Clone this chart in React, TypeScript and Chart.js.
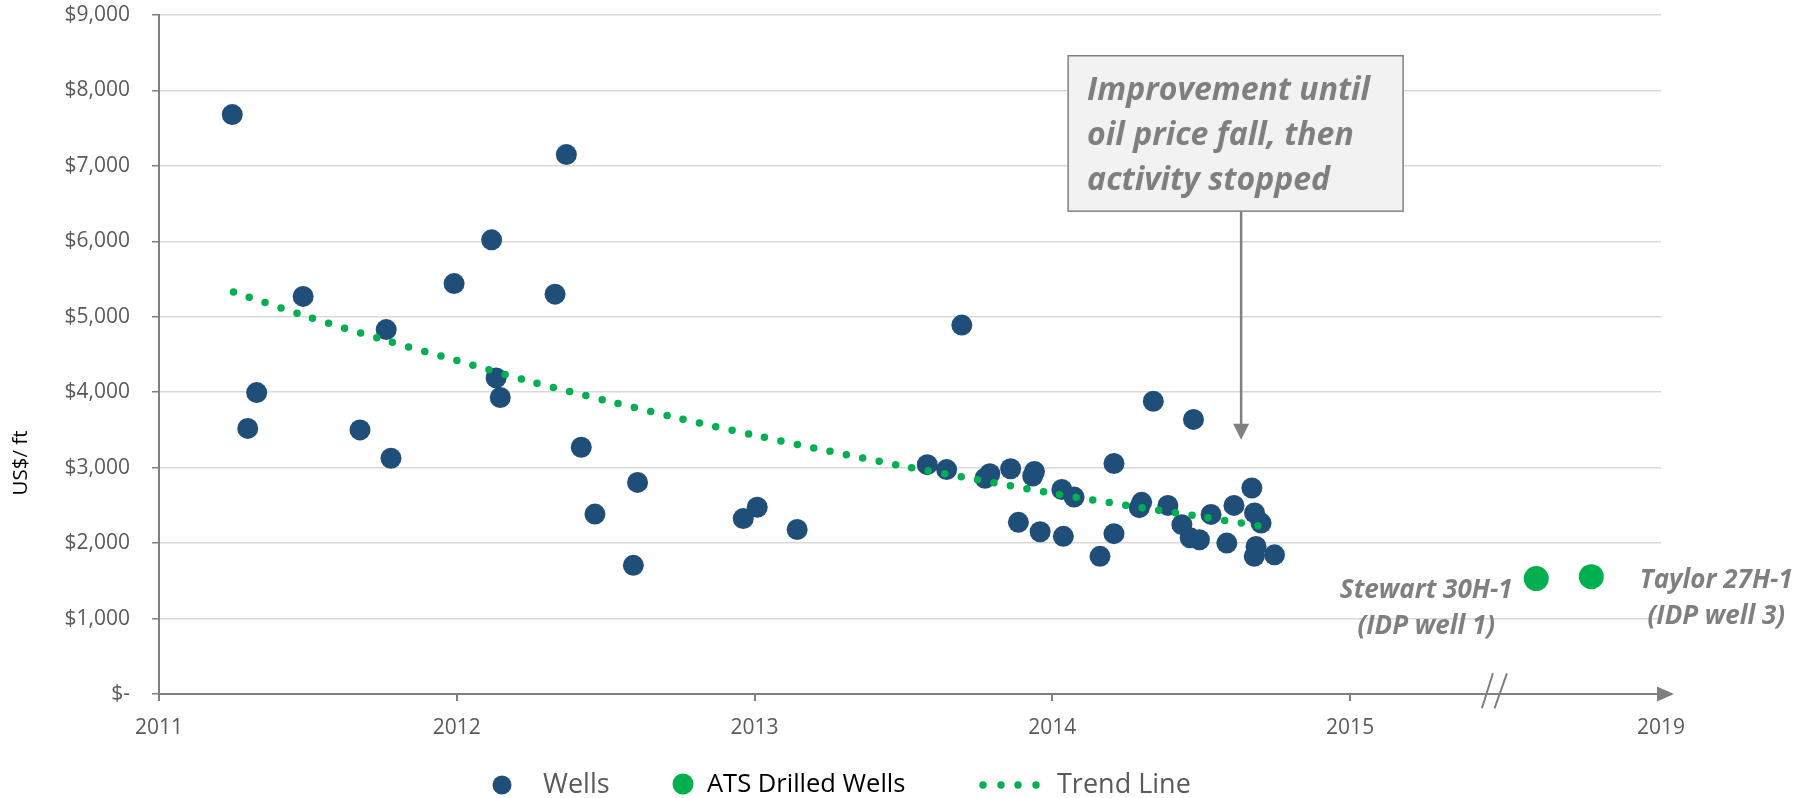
import React, { useEffect, useRef } from "react";
import { Chart, registerables } from "chart.js";

Chart.register(...registerables);

const FONT = "'Open Sans', 'Noto Sans', sans-serif";
const BLUE = "#1f4e79";
const GREEN = "#00b050";
const GRAY = "#7f7f7f";

// Wells: year (decimal) and cost US$/ft
const wellYears = [
  2011.246, 2011.298, 2011.328, 2011.484, 2011.675, 2011.763, 2011.779, 2011.991,
  2012.117, 2012.132, 2012.146, 2012.33, 2012.368, 2012.418, 2012.464, 2012.593,
  2012.607, 2012.962, 2013.009, 2013.143, 2013.58, 2013.645, 2013.696, 2013.774,
  2013.79, 2013.86, 2013.886, 2013.934, 2013.94, 2013.959, 2014.032, 2014.037,
  2014.073, 2014.16, 2014.207, 2014.207, 2014.292, 2014.3, 2014.339, 2014.388,
  2014.435, 2014.463, 2014.474, 2014.494, 2014.533, 2014.586, 2014.61, 2014.67,
  2014.679, 2014.684, 2014.678, 2014.701, 2014.746,
];
const wellCosts = [
  7680, 3520, 3995, 5270, 3500, 4830, 3125, 5440,
  6020, 4190, 3930, 5300, 7150, 3270, 2385, 1705,
  2805, 2325, 2475, 2180, 3040, 2975, 4890, 2860,
  2920, 2985, 2275, 2890, 2950, 2150, 2710, 2090,
  2610, 1825, 3055, 2125, 2470, 2540, 3880, 2500,
  2245, 2070, 3640, 2045, 2380, 2000, 2500, 2730,
  2400, 1955, 1825, 2265, 1845,
];

// ATS drilled wells, placed on the compressed 2015-2019 segment of the axis
const atsPositions = [2015.625, 2015.81];
const atsCosts = [1530, 1555];
const atsNames = ["Stewart 30H-1", "Taylor 27H-1"];
const atsNotes = ["(IDP well 1)", "(IDP well 3)"];

// Trend line
const trendYears = [
  2011.25, 2011.5, 2011.75, 2012, 2012.25, 2012.5, 2012.75, 2013,
  2013.25, 2013.5, 2013.75, 2014, 2014.25, 2014.5, 2014.74,
];
const trendCosts = [
  5330, 5000, 4700, 4420, 4140, 3890, 3650, 3430,
  3220, 3020, 2840, 2660, 2500, 2350, 2200,
];

const xTickValues = [2011, 2012, 2013, 2014, 2015, 2016.044];
const xTickLabels = ["2011", "2012", "2013", "2014", "2015", "2019"];
const axisBreakAt = 2015.484;
const yMax = 9000;
const yStep = 1000;

const annotationLines = ["Improvement until", "oil price fall, then", "activity stopped"];
const annotationBox = { x1: 2014.053, x2: 2015.178, y1: 8460, y2: 6400 };
const annotationArrow = { x: 2014.634, tip: 3370 };

const legendLabels = ["Wells", "ATS Drilled Wells", "Trend Line"];

const overlayPlugin = {
  id: "overlay",
  afterDraw(chart: any) {
    const ctx = chart.ctx as CanvasRenderingContext2D;
    const xs = chart.scales.x;
    const ys = chart.scales.y;
    const area = chart.chartArea;
    const y0 = ys.getPixelForValue(0);
    ctx.save();

    // x-axis arrowhead
    ctx.fillStyle = GRAY;
    ctx.beginPath();
    ctx.moveTo(area.right - 4, y0 - 7.5);
    ctx.lineTo(area.right + 13, y0);
    ctx.lineTo(area.right - 4, y0 + 7.5);
    ctx.closePath();
    ctx.fill();

    // axis break marks
    const xb = xs.getPixelForValue(axisBreakAt);
    ctx.strokeStyle = GRAY;
    ctx.lineWidth = 2;
    ctx.beginPath();
    ctx.moveTo(xb - 12.3, y0 + 14.3);
    ctx.lineTo(xb - 1.3, y0 - 20.7);
    ctx.moveTo(xb + 0.3, y0 + 14.3);
    ctx.lineTo(xb + 12.7, y0 - 20.7);
    ctx.stroke();

    // y-axis title
    ctx.save();
    ctx.translate(21, 463);
    ctx.rotate(-Math.PI / 2);
    ctx.fillStyle = "#000";
    ctx.font = `20.5px ${FONT}`;
    ctx.textAlign = "center";
    ctx.textBaseline = "middle";
    ctx.fillText("US$/ ft", 0, 0);
    ctx.restore();

    // ATS labels
    ctx.fillStyle = GRAY;
    ctx.font = `italic bold 26px ${FONT}`;
    ctx.textAlign = "center";
    ctx.textBaseline = "middle";
    const offs = [
      { dx: -110, dy: 12 },
      { dx: 125, dy: 4 },
    ];
    atsPositions.forEach((p, i) => {
      const px = xs.getPixelForValue(p);
      const py = ys.getPixelForValue(atsCosts[i]);
      ctx.fillText(atsNames[i], px + offs[i].dx, py + offs[i].dy);
      ctx.fillText(atsNotes[i], px + offs[i].dx, py + offs[i].dy + 36);
    });

    // annotation box
    const bx1 = xs.getPixelForValue(annotationBox.x1);
    const bx2 = xs.getPixelForValue(annotationBox.x2);
    const by1 = ys.getPixelForValue(annotationBox.y1);
    const by2 = ys.getPixelForValue(annotationBox.y2);
    ctx.fillStyle = "#f2f2f2";
    ctx.fillRect(bx1, by1, bx2 - bx1, by2 - by1);
    ctx.strokeStyle = "#808080";
    ctx.lineWidth = 1.5;
    ctx.strokeRect(bx1, by1, bx2 - bx1, by2 - by1);
    ctx.fillStyle = GRAY;
    ctx.font = `italic bold 32px ${FONT}`;
    ctx.textAlign = "left";
    ctx.textBaseline = "middle";
    annotationLines.forEach((line, i) => {
      ctx.fillText(line, bx1 + 19, by1 + 35 + i * 45);
    });

    // annotation arrow
    const ax = xs.getPixelForValue(annotationArrow.x);
    const tipY = ys.getPixelForValue(annotationArrow.tip);
    ctx.strokeStyle = "#808080";
    ctx.lineWidth = 2.5;
    ctx.beginPath();
    ctx.moveTo(ax, by2);
    ctx.lineTo(ax, tipY - 14);
    ctx.stroke();
    ctx.fillStyle = "#808080";
    ctx.beginPath();
    ctx.moveTo(ax - 8, tipY - 16);
    ctx.lineTo(ax + 8, tipY - 16);
    ctx.lineTo(ax, tipY);
    ctx.closePath();
    ctx.fill();

    // legend
    const ly = 785;
    ctx.textAlign = "left";
    ctx.textBaseline = "middle";
    ctx.fillStyle = BLUE;
    ctx.beginPath();
    ctx.arc(502, ly, 9.5, 0, Math.PI * 2);
    ctx.fill();
    ctx.font = `27px ${FONT}`;
    ctx.fillStyle = "#595959";
    ctx.fillText(legendLabels[0], 543, ly);

    ctx.fillStyle = GREEN;
    ctx.beginPath();
    ctx.arc(683, ly - 1, 10.5, 0, Math.PI * 2);
    ctx.fill();
    ctx.font = `25.5px ${FONT}`;
    ctx.fillStyle = "#000";
    ctx.fillText(legendLabels[1], 707, ly);

    ctx.fillStyle = GREEN;
    [983, 1001, 1018, 1036].forEach((dx) => {
      ctx.beginPath();
      ctx.arc(dx, ly, 3.7, 0, Math.PI * 2);
      ctx.fill();
    });
    ctx.font = `27px ${FONT}`;
    ctx.fillStyle = "#595959";
    ctx.fillText(legendLabels[2], 1057, ly);

    ctx.restore();
  },
};

export default function App() {
  const canvasRef = useRef<HTMLCanvasElement | null>(null);

  useEffect(() => {
    if (!canvasRef.current) return;
    const wells = wellYears.map((x, i) => ({ x, y: wellCosts[i] }));
    const ats = atsPositions.map((x, i) => ({ x, y: atsCosts[i] }));
    const trend = trendYears.map((x, i) => ({ x, y: trendCosts[i] }));
    const xMax = xTickValues[xTickValues.length - 1];

    const chart = new Chart(canvasRef.current, {
      type: "scatter",
      data: {
        datasets: [
          {
            label: legendLabels[2],
            data: trend,
            showLine: true,
            borderColor: GREEN,
            borderWidth: 7.5,
            borderCapStyle: "round",
            borderDash: [0, 16.7],
            pointRadius: 0,
            fill: false,
            tension: 0.3,
            order: 0,
          } as any,
          {
            label: legendLabels[0],
            data: wells,
            backgroundColor: BLUE,
            borderWidth: 0,
            pointRadius: 10.5,
            order: 1,
          },
          {
            label: legendLabels[1],
            data: ats,
            backgroundColor: GREEN,
            borderWidth: 0,
            pointRadius: 12.5,
            order: 1,
          },
        ],
      },
      options: {
        responsive: false,
        animation: false,
        layout: { padding: { left: 0, right: 151, top: 15, bottom: 0 } },
        plugins: {
          legend: { display: false },
          tooltip: { enabled: false },
        },
        scales: {
          x: {
            type: "linear",
            min: xTickValues[0],
            max: xMax,
            afterBuildTicks: (scale: any) => {
              scale.ticks = xTickValues.map((v) => ({ value: v }));
            },
            afterFit: (scale: any) => {
              scale.height = 104;
              scale.paddingLeft = 0;
              scale.paddingRight = 0;
            },
            ticks: {
              autoSkip: false,
              maxRotation: 0,
              padding: 14,
              color: "#595959",
              font: { family: FONT, size: 21 },
              callback: (v: any) => {
                const idx = xTickValues.indexOf(Number(v));
                return idx >= 0 ? xTickLabels[idx] : "";
              },
            },
            grid: {
              drawOnChartArea: false,
              tickLength: 7,
              lineWidth: 2,
              tickColor: (c: any) =>
                c.index === xTickValues.length - 1 ? "rgba(0,0,0,0)" : GRAY,
            },
            border: { display: true, color: GRAY, width: 2 },
          },
          y: {
            min: 0,
            max: yMax,
            afterFit: (scale: any) => {
              scale.width = 159;
              scale.paddingTop = 0;
              scale.paddingBottom = 0;
            },
            ticks: {
              stepSize: yStep,
              padding: 22,
              color: "#595959",
              font: { family: FONT, size: 21 },
              callback: (v: any) =>
                Number(v) === 0 ? "$-" : "$" + Number(v).toLocaleString("en-US"),
            },
            grid: {
              color: "#d9d9d9",
              lineWidth: 1.5,
              tickLength: 7,
              tickColor: GRAY,
            },
            border: { display: true, color: GRAY, width: 2 },
          },
        },
      },
      plugins: [overlayPlugin],
    });
    return () => chart.destroy();
  }, []);

  return (
    <div style={{ position: "fixed", left: 0, top: 0, width: 1812, height: 798, background: "#fff" }}>
      <canvas ref={canvasRef} width={1812} height={798} style={{ display: "block" }} />
    </div>
  );
}
